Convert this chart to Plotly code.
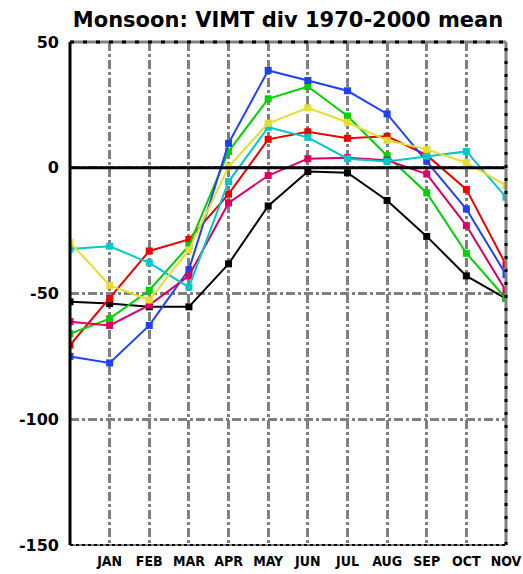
import plotly.graph_objects as go

months = ["DEC", "JAN", "FEB", "MAR", "APR", "MAY", "JUN", "JUL", "AUG", "SEP", "OCT", "NOV"]
tick_labels = ["JAN", "FEB", "MAR", "APR", "MAY", "JUN", "JUL", "AUG", "SEP", "OCT", "NOV"]
y_ticks = [50, 0, -50, -100, -150]

black = [-53.3, -54.0, -55.3, -55.3, -38.2, -15.2, -1.5, -2.0, -13.0, -27.3, -43.0, -52.0]
red = [-70.5, -52.0, -33.1, -28.5, -10.5, 11.3, 14.3, 11.7, 12.5, 5.0, -8.6, -38.6]
green = [-66.0, -60.0, -48.7, -31.0, 6.5, 27.4, 32.3, 20.6, 4.8, -10.0, -34.0, -52.0]
blue = [-75.0, -77.6, -62.7, -40.5, 9.7, 38.7, 34.7, 30.6, 21.4, 2.6, -16.4, -42.5]
cyan = [-32.3, -31.2, -37.8, -47.5, -5.5, 16.1, 12.1, 3.6, 2.5, 4.6, 6.5, -11.7]
magenta = [-61.2, -62.7, -54.6, -43.0, -14.0, -3.1, 3.6, 4.0, 3.0, -2.5, -23.0, -49.0]
yellow = [-29.6, -46.8, -52.6, -32.7, 0.4, 17.7, 23.8, 18.1, 10.9, 7.3, 2.0, -7.0]

series = [
    ("black", black, "#000000"),
    ("red", red, "#f00000"),
    ("green", green, "#00d200"),
    ("blue", blue, "#2040ff"),
    ("magenta", magenta, "#dc0064"),
    ("cyan", cyan, "#00c8c8"),
    ("yellow", yellow, "#e6dc32"),
]

x = list(range(len(months)))

fig = go.Figure()
for name, vals, col in series:
    fig.add_trace(go.Scatter(
        x=x, y=vals, mode="lines+markers", name=name,
        line=dict(color=col, width=2),
        marker=dict(symbol="square", size=7, color=col),
        showlegend=False,
    ))

grey = "#808080"
W, H = 523, 574
fig.update_layout(
    width=W, height=H,
    margin=dict(l=70, r=17, t=42, b=29, autoexpand=False),
    paper_bgcolor="white", plot_bgcolor="white",
    title=dict(text="Monsoon: VIMT div 1970-2000 mean", x=0.5, xref="paper", xanchor="center",
               y=1 - 20 / H, yref="container", yanchor="middle",
               font=dict(family="DejaVu Sans", size=21, color="black", weight="bold")),
    xaxis=dict(range=[0, 11], tickvals=list(range(1, 12)), ticktext=tick_labels,
               showgrid=True, gridcolor=grey, gridwidth=2.5, griddash="dashdot",
               zeroline=False, showline=False, ticks="", ticklabelstandoff=6, automargin=False,
               tickfont=dict(family="DejaVu Sans Condensed, Liberation Sans Narrow, DejaVu Sans", size=14,
                             color="black", weight="bold")),
    yaxis=dict(range=[-150, 50], tickvals=y_ticks, ticktext=[str(v) for v in y_ticks],
               showgrid=True, gridcolor=grey, gridwidth=2.5, griddash="dashdot",
               zeroline=False, showline=False, ticks="", ticklabelstandoff=10, automargin=False,
               tickfont=dict(family="DejaVu Sans", size=16, color="black", weight="bold")),
)

# frame and zero line
shapes = [
    dict(type="line", xref="paper", yref="y", x0=0, x1=1, y0=0, y1=0,
         line=dict(color="black", width=3), layer="above"),
    dict(type="line", xref="paper", yref="paper", x0=0, x1=1, y0=1, y1=1,
         line=dict(color=grey, width=3), layer="above"),
    dict(type="line", xref="paper", yref="paper", x0=0, x1=1, y0=1, y1=1,
         line=dict(color="black", width=3, dash="4px,9px"), layer="above"),
    dict(type="line", xref="paper", yref="paper", x0=1, x1=1, y0=0, y1=1,
         line=dict(color=grey, width=3), layer="above"),
    dict(type="line", xref="paper", yref="paper", x0=1, x1=1, y0=0, y1=1,
         line=dict(color="black", width=3, dash="3px,10px"), layer="above"),
    dict(type="line", xref="paper", yref="paper", x0=0, x1=1, y0=0, y1=0,
         line=dict(color=grey, width=2), layer="above"),
    dict(type="line", xref="paper", yref="paper", x0=0, x1=1, y0=0, y1=0,
         line=dict(color="black", width=2, dash="3px,3px"), layer="above"),
    dict(type="line", xref="paper", yref="paper", x0=0, x1=0, y0=0, y1=1,
         line=dict(color="black", width=3), layer="above"),
]
fig.update_layout(shapes=shapes)

fig.write_html(
    "out.html",
    config={"displayModeBar": False},
    post_script="document.body.style.margin='0';document.body.style.overflow='hidden';",
)
